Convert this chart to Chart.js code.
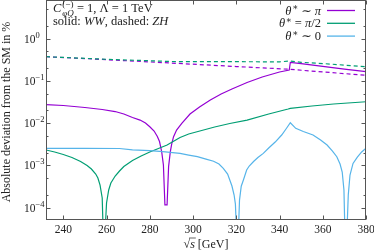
<!DOCTYPE html>
<html>
<head>
<meta charset="utf-8">
<script src="https://cdn.jsdelivr.net/npm/chart.js@4/dist/chart.umd.min.js"></script>
<style>
  html, body { margin: 0; padding: 0; background: #fff; }
</style>
</head>
<body>
<canvas id="chart" width="374" height="251"></canvas>
<script>
// sqrt(s) in GeV and absolute deviation in %
// solid: WW
const wwPiX = [232, 240, 250, 258, 264, 268, 272, 275.5, 278, 280, 282, 283.5, 284.5, 285.5, 286.3, 287, 288, 288.7, 289.5, 290.2, 291, 292.4, 294.8, 298.6, 303, 308, 313, 318, 325, 332, 340, 344.5, 345, 350, 360, 370, 380];
const wwPiY = [0.0273, 0.0261, 0.0234, 0.0210, 0.0188, 0.0164, 0.0136, 0.0118, 0.01005, 0.0082, 0.0065, 0.00481, 0.00366, 0.0021, 0.00102, 0.000115, 0.000115, 0.00093, 0.0021, 0.0033, 0.00476, 0.00686, 0.00989, 0.0164, 0.0241, 0.0353, 0.0489, 0.0643, 0.0917, 0.1237, 0.1625, 0.181, 0.276, 0.257, 0.222, 0.191, 0.165];

const wwHalfX = [232, 236, 240, 244, 248, 251, 253, 255, 256, 257, 258, 258.5, 259.2, 260, 261, 262, 264, 266, 268, 272, 276, 280, 284, 288, 292, 294, 298, 304, 310, 317, 325, 335, 344, 345, 355, 365, 380];
const wwHalfY = [0.00231, 0.00207, 0.0018, 0.00153, 0.00123, 0.00099, 0.000817, 0.000622, 0.0005, 0.000341, 0.000168, 0.00002, 0.00002, 0.000128, 0.00026, 0.000381, 0.000557, 0.000733, 0.000937, 0.0013, 0.00166, 0.00207, 0.0025, 0.00303, 0.00398, 0.00456, 0.00552, 0.00668, 0.00809, 0.0098, 0.0118, 0.0164, 0.0216, 0.0224, 0.0254, 0.0284, 0.0321];

const wwZeroX = [232, 250, 266, 272, 280, 286, 294, 298, 302, 306, 309.5, 312, 314, 316, 317, 318, 319, 319.6, 320.2, 320.9, 321.5, 322.3, 323.3, 324.8, 326, 328, 330, 332.5, 335, 338, 341, 343, 345, 347.5, 351, 355.5, 359, 362, 364.5, 366.5, 368, 369, 369.8, 370.3, 371.1, 371.8, 372.6, 374, 376, 378, 380];
const wwZeroY = [0.00253, 0.00253, 0.0025, 0.00231, 0.00222, 0.0021, 0.00192, 0.00175, 0.0016, 0.0014, 0.00125, 0.00107, 0.000849, 0.000622, 0.000449, 0.000323, 0.000198, 0.00012, 0.00002, 0.00002, 0.00015, 0.00032, 0.000449, 0.000774, 0.000962, 0.00123, 0.00153, 0.00192, 0.00257, 0.00356, 0.00522, 0.00725, 0.0102, 0.00753, 0.00632, 0.00522, 0.00398, 0.00303, 0.00218, 0.0016, 0.00107, 0.000694, 0.00026, 0.00002, 0.00002, 0.000198, 0.000589, 0.00111, 0.00157, 0.00207, 0.00253];

// dashed: ZH
const zhPiX = [232, 260, 290, 320, 345, 360, 380];
const zhPiY = [0.375, 0.318, 0.265, 0.219, 0.188, 0.163, 0.136];
const zhHalfX = [232, 260, 290, 320, 340, 345, 350, 360, 380];
const zhHalfY = [0.375, 0.325, 0.288, 0.285, 0.283, 0.296, 0.276, 0.258, 0.217];

const xTicks = [240, 260, 280, 300, 320, 340, 360, 380];
const yExps = [0, -1, -2, -3, -4];
const legendLabels = ['θ* ∼ π', 'θ* = π/2', 'θ* ∼ 0'];

const purple = '#9400d3', green = '#009e73', blue = '#56b4e9';

function pts(xs, ys) { return xs.map((x, i) => ({ x: x, y: ys[i] })); }

function fnt(size, italic) {
  return (italic ? 'italic ' : '') + size + 'px "Liberation Serif", "DejaVu Serif", serif';
}

// draws a run of text pieces (italic, super/subscript)
function drawRun(ctx, parts, x, y, align, base) {
  base = base || 11;
  let pos = 0, w = 0, prevStart = 0;
  const laid = parts.map(p => {
    ctx.font = fnt(p.s || base, p.i);
    const wd = ctx.measureText(p.t).width;
    let start = p.back ? prevStart : pos + (p.dx || 0);
    prevStart = start;
    pos = Math.max(pos, start + wd);
    w = Math.max(w, pos);
    return { p: p, start: start, wd: wd };
  });
  const x0 = align === 'right' ? x - w : align === 'center' ? x - w / 2 : x;
  ctx.textAlign = 'left';
  ctx.textBaseline = 'alphabetic';
  laid.forEach(l => {
    ctx.font = fnt(l.p.s || base, l.p.i);
    ctx.fillText(l.p.t, x0 + l.start, y + (l.p.dy || 0));
    if (l.p.ol) {
      ctx.beginPath();
      ctx.moveTo(x0 + l.start - 1, y - 10);
      ctx.lineTo(x0 + l.start + l.wd + 1, y - 10);
      ctx.lineWidth = 0.7;
      ctx.stroke();
    }
  });
  return w;
}

function thetaParts(rest) {
  return [{ t: 'θ', i: 1 }, { t: '∗', s: 9, dy: -4.5, dx: 0.5 }].concat(rest);
}

const decor = {
  id: 'decor',
  afterDatasetsDraw(chart) {
    const ctx = chart.ctx, a = chart.chartArea;
    const xs = chart.scales.x, ys = chart.scales.y;
    ctx.save();
    ctx.strokeStyle = '#555';
    ctx.lineWidth = 1;
    const L = Math.round(a.left) + 0.5, R = Math.round(a.right) - 0.5;
    const T = Math.round(a.top) + 0.5, B = Math.round(a.bottom) - 0.5;
    ctx.strokeRect(L, T, R - L, B - T);

    ctx.beginPath();
    xTicks.forEach(v => {
      const px = Math.round(xs.getPixelForValue(v)) + 0.5;
      ctx.moveTo(px, B); ctx.lineTo(px, B - 4);
      ctx.moveTo(px, T); ctx.lineTo(px, T + 4);
    });
    for (let k = -5; k <= 0; k++) {
      [1, 2, 5].forEach(m => {
        const v = m * Math.pow(10, k);
        if (v < ys.min || v > ys.max) return;
        const py = Math.round(ys.getPixelForValue(v)) + 0.5;
        const len = m === 1 ? 4 : 2;
        ctx.moveTo(L, py); ctx.lineTo(L + len, py);
        ctx.moveTo(R, py); ctx.lineTo(R - len, py);
      });
    }
    ctx.stroke();

    ctx.fillStyle = '#222';
    ctx.strokeStyle = '#222';
    xTicks.forEach(v => {
      ctx.font = fnt(11.5);
      ctx.textAlign = 'center';
      ctx.textBaseline = 'alphabetic';
      ctx.fillText(String(v), xs.getPixelForValue(v), 233);
    });
    yExps.forEach(e => {
      const py = ys.getPixelForValue(Math.pow(10, e));
      drawRun(ctx, [{ t: '10' }, { t: e === 0 ? '0' : '−' + (-e), s: 8.5, dy: -5 }], 24, py + 4, 'left', 11.5);
    });

    // axis titles
    drawRun(ctx, [{ t: '√' }, { t: 's', i: 1, ol: 1 }, { t: ' [GeV]' }], (a.left + a.right) / 2, 248, 'center', 12);
    ctx.save();
    ctx.translate(10, (a.top + a.bottom) / 2 + 2);
    ctx.rotate(-Math.PI / 2);
    ctx.font = fnt(12);
    ctx.textAlign = 'center';
    ctx.fillText('Absolute deviation from the SM in %', 0, 0);
    ctx.restore();

    // labels in the top-left corner
    drawRun(ctx, [{ t: 'C', i: 1 }, { t: '(−)', s: 9, dy: -5, dx: 1 }, { t: 'φQ', i: 1, s: 9, dy: 3.5, back: 1 }, { t: ' = 1, Λ = 1 TeV' }], 53, 12, 'left', 12.5);
    drawRun(ctx, [{ t: 'solid: ' }, { t: 'WW', i: 1 }, { t: ', dashed: ' }, { t: 'ZH', i: 1 }], 53, 25, 'left', 12.5);

    // legend, text then line sample
    const legParts = [
      thetaParts([{ t: ' ∼ ' }, { t: 'π', i: 1 }]),
      thetaParts([{ t: ' = ' }, { t: 'π', i: 1 }, { t: '/2' }]),
      thetaParts([{ t: ' ∼ 0' }])
    ];
    const legColors = [purple, green, blue];
    legendLabels.forEach((lab, i) => {
      const yy = 10.5 + i * 12.8;
      ctx.fillStyle = '#222';
      drawRun(ctx, legParts[i], 321, yy + 4, 'right', 12.5);
      ctx.beginPath();
      ctx.strokeStyle = legColors[i];
      ctx.lineWidth = 1.3;
      ctx.moveTo(327, yy);
      ctx.lineTo(355, yy);
      ctx.stroke();
    });
    ctx.restore();
  }
};

const common = { pointRadius: 0, borderWidth: 1.2, fill: false, tension: 0 };

new Chart(document.getElementById('chart').getContext('2d'), {
  type: 'line',
  data: {
    datasets: [
      Object.assign({ label: 'ZH θ*=π/2', data: pts(zhHalfX, zhHalfY), borderColor: green, borderDash: [4, 3] }, common),
      Object.assign({ label: 'ZH θ*~π', data: pts(zhPiX, zhPiY), borderColor: purple, borderDash: [4, 3] }, common),
      Object.assign({ label: 'WW θ*~0', data: pts(wwZeroX, wwZeroY), borderColor: blue }, common),
      Object.assign({ label: 'WW θ*=π/2', data: pts(wwHalfX, wwHalfY), borderColor: green }, common),
      Object.assign({ label: 'WW θ*~π', data: pts(wwPiX, wwPiY), borderColor: purple }, common)
    ]
  },
  options: {
    responsive: false,
    animation: false,
    layout: { padding: { left: 46, right: 8, top: 0, bottom: 31 } },
    plugins: { legend: { display: false }, tooltip: { enabled: false } },
    scales: {
      x: { type: 'linear', min: 232, max: 380, display: false },
      y: { type: 'logarithmic', min: 5.06e-5, max: 8.26, display: false }
    }
  },
  plugins: [decor]
});
</script>
</body>
</html>
